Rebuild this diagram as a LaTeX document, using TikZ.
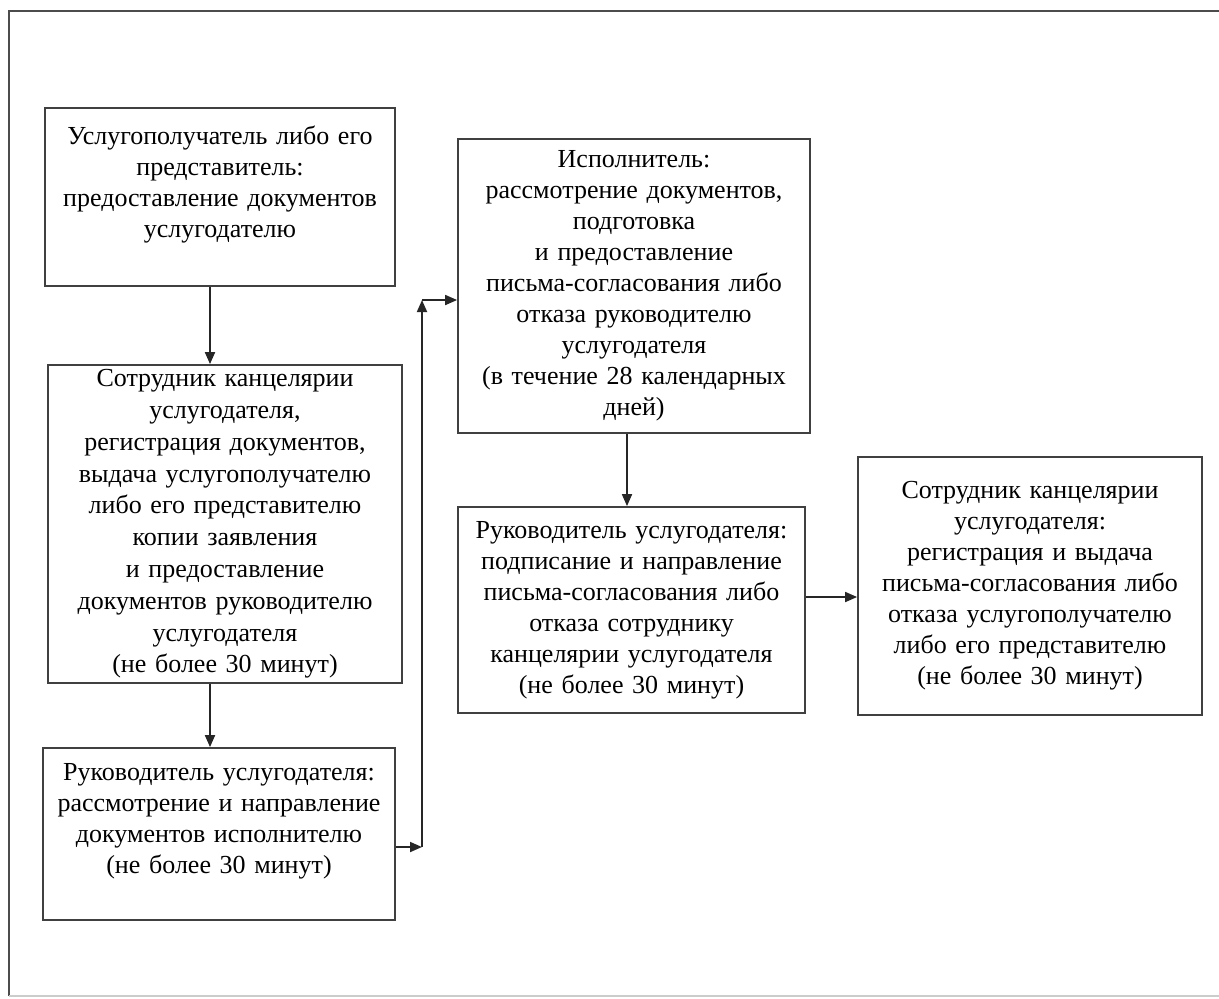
\documentclass[tikz,border=0pt]{standalone}
\usepackage{fontspec}
\setmainfont{Liberation Serif}
\usetikzlibrary{positioning, arrows.meta, calc}
\tikzset{
  stage/.style 2 args={draw=black!75, line width=0.9pt, align=center, inner xsep=5pt,
    text width=#1, minimum height=#2, font=\fontsize{13}{15.5}\selectfont},
  flow/.style={line width=0.9pt, black!85, -{Triangle[length=6pt,width=5pt]}}
}

\begin{document}
\begin{tikzpicture}[x=0.5pt,y=-0.5pt]
  \useasboundingbox (0,0) rectangle (1219,998);
  \draw[black!70,line width=1pt] (9,996) -- (9,11) -- (1219,11);
  \draw[black!20,line width=0.8pt] (9,996) -- (1219,996);

  \node[stage={165pt}{89pt},text depth=62pt] (recv) at (220,197) {Услугополучатель либо его\\ представитель:\\ предоставление документов\\ услугодателю};
  \node[stage={167pt}{159pt},inner ysep=2pt,font=\fontsize{13}{15.9}\selectfont] (office) at (225,524) {Сотрудник канцелярии\\ услугодателя,\\ регистрация  документов,\\ выдача услугополучателю\\ либо его представителю\\ копии заявления\\ и предоставление\\ документов  руководителю\\ услугодателя\\ (не более 30 минут)};
  \node[stage={166pt}{86pt},text depth=62pt] (head) at (219,834) {Руководитель услугодателя:\\ рассмотрение и направление\\ документов исполнителю\\ (не более 30 минут)};
  \node[stage={166pt}{147pt}] (exec) at (634,286) {Исполнитель:\\ рассмотрение документов,\\ подготовка\\ и предоставление\\ письма-согласования либо\\ отказа руководителю\\ услугодателя\\ (в течение 28 календарных\\ дней)};
  \node[stage={163.5pt}{103pt}] (sign) at (631.5,610) {Руководитель услугодателя:\\ подписание и направление\\ письма-согласования либо\\ отказа сотруднику\\ канцелярии услугодателя\\ (не более 30 минут)};
  \node[stage={162pt}{129pt}] (issue) at (1030,586) {Сотрудник канцелярии\\ услугодателя:\\ регистрация и выдача\\ письма-согласования либо\\ отказа услугополучателю\\ либо его представителю\\ (не более 30 минут)};

  \coordinate (k1) at (422,847);
  \coordinate (k2) at (422,300);

  \draw[flow] ([xshift=-5pt]recv.south) -- ([xshift=-5pt]recv.south |- office.north);
  \draw[flow] ([xshift=-7.5pt]office.south) -- ([xshift=-7.5pt]office.south |- head.north);
  \draw[flow] (head.east |- k1) -- (k1);
  \draw[flow] (k1) -- (k2);
  \draw[flow] (k2) -- (k2 -| exec.west);
  \draw[flow] ([xshift=-3.5pt]exec.south) -- ([xshift=-3.5pt]exec.south |- sign.north);
  \draw[flow] ([yshift=6.5pt]sign.east) -- ([yshift=6.5pt]sign.east -| issue.west);
\end{tikzpicture}
\end{document}
